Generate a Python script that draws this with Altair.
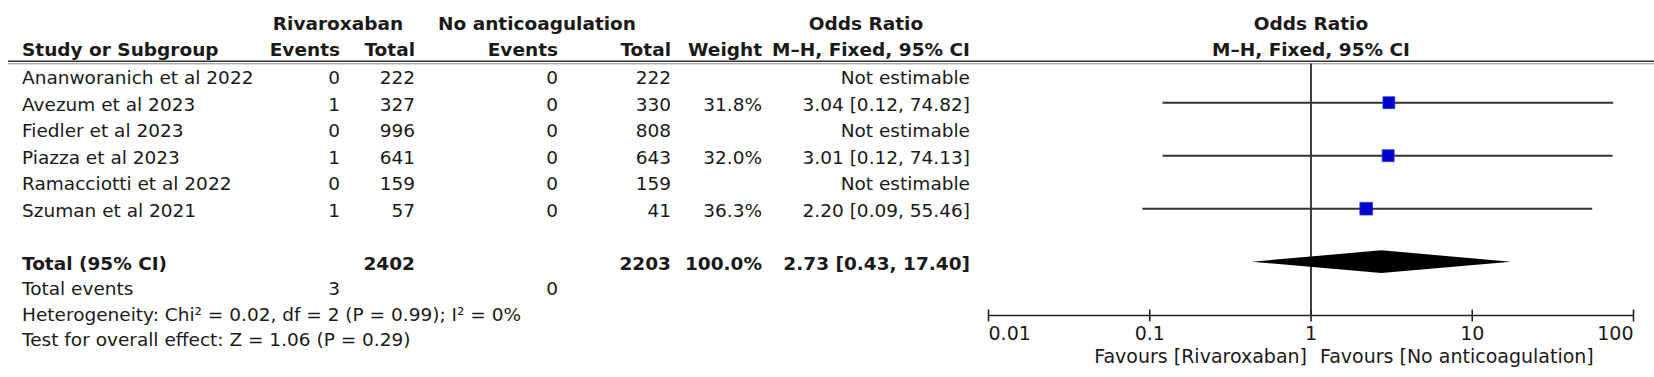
import altair as alt
import pandas as pd

# ---------------- data ----------------
studies = ["Ananworanich et al 2022", "Avezum et al 2023", "Fiedler et al 2023",
           "Piazza et al 2023", "Ramacciotti et al 2022", "Szuman et al 2021"]
riva_events = [0, 1, 0, 1, 0, 1]
riva_total = [222, 327, 996, 641, 159, 57]
noac_events = [0, 0, 0, 0, 0, 0]
noac_total = [222, 330, 808, 643, 159, 41]
weights = [None, 31.8, None, 32.0, None, 36.3]
or_est = [None, 3.04, None, 3.01, None, 2.20]
or_lo = [None, 0.12, None, 0.12, None, 0.09]
or_hi = [None, 74.82, None, 74.13, None, 55.46]

total_riva = 2402
total_noac = 2203
total_weight = 100.0
total_est, total_lo, total_hi = 2.73, 0.43, 17.40
events_riva_sum = 3
events_noac_sum = 0
het_text = "Heterogeneity: Chi\u00b2 = 0.02, df = 2 (P = 0.99); I\u00b2 = 0%"
test_text = "Test for overall effect: Z = 1.06 (P = 0.29)"

tick_values = [0.01, 0.1, 1, 10, 100]
tick_labels = ["0.01", "0.1", "1", "10", "100"]
favours_left = "Favours [Rivaroxaban]"
favours_right = "Favours [No anticoagulation]"

# ---------------- styles ----------------
FONT = "DejaVu Sans"
FS = 18.5
TXT = "#1a1a1a"
ROW_DY = 8.0
W, H = 1654, 377

yscale = alt.Scale(domain=[0, 10], range=[76.2, 341.2], zero=False, nice=False)
xscale = alt.Scale(type="log", domain=[0.01, 100], range=[988.5, 1633.5], nice=False)

TOTAL_ROW, EVENTS_ROW, HET_ROW, TEST_ROW = 7, 7.97, 8.92, 9.87

X_STUDY, X_RE, X_RT, X_NE, X_NT, X_W, X_CI = 22, 340, 415, 558, 671, 762, 970


def row_text(rows, texts, x, align, bold=False):
    df = pd.DataFrame({"row": rows, "t": texts})
    df = df[df["t"] != ""]
    return alt.Chart(df).mark_text(
        align=align, baseline="alphabetic", dy=ROW_DY, font=FONT, fontSize=FS,
        fontWeight="bold" if bold else "normal", color=TXT
    ).encode(x=alt.value(x), y=alt.Y("row:Q", scale=yscale, axis=None), text="t:N")


def head_text(text, x, y, align, bold=True):
    df = pd.DataFrame({"t": [text]})
    return alt.Chart(df).mark_text(
        align=align, baseline="alphabetic", font=FONT, fontSize=FS,
        fontWeight="bold" if bold else "normal", color=TXT
    ).encode(x=alt.value(x), y=alt.value(y), text="t:N")


def fmt_ci(e, l, h):
    if e is None:
        return "Not estimable"
    return f"{e:.2f} [{l:.2f}, {h:.2f}]"


idx = list(range(len(studies)))
layers = []

# header
layers += [
    head_text("Rivaroxaban", 338, 30, "center"),
    head_text("No anticoagulation", 537, 30, "center"),
    head_text("Odds Ratio", 866, 30, "center"),
    head_text("Odds Ratio", 1311, 30, "center"),
    head_text("Study or Subgroup", X_STUDY, 55.5, "left"),
    head_text("Events", X_RE, 55.5, "right"),
    head_text("Total", X_RT, 55.5, "right"),
    head_text("Events", X_NE, 55.5, "right"),
    head_text("Total", X_NT, 55.5, "right"),
    head_text("Weight", X_W, 55.5, "right"),
    head_text("M\u2013H, Fixed, 95% CI", X_CI, 55.5, "right"),
    head_text("M\u2013H, Fixed, 95% CI", 1311, 55.5, "center"),
]

# header rules (double)
rule_df = pd.DataFrame({"a": [0]})
layers.append(alt.Chart(rule_df).mark_rule(color="#333333", strokeWidth=1.4).encode(
    x=alt.value(8), x2=alt.value(W), y=alt.value(61.3)))
layers.append(alt.Chart(rule_df).mark_rule(color="#8a8a8a", strokeWidth=1.0).encode(
    x=alt.value(8), x2=alt.value(W), y=alt.value(63.8)))

# body rows
layers += [
    row_text(idx, studies, X_STUDY, "left"),
    row_text(idx, [str(v) for v in riva_events], X_RE, "right"),
    row_text(idx, [str(v) for v in riva_total], X_RT, "right"),
    row_text(idx, [str(v) for v in noac_events], X_NE, "right"),
    row_text(idx, [str(v) for v in noac_total], X_NT, "right"),
    row_text(idx, ["" if w is None else f"{w:.1f}%" for w in weights], X_W, "right"),
    row_text(idx, [fmt_ci(e, l, h) for e, l, h in zip(or_est, or_lo, or_hi)], X_CI, "right"),
]

# total row (bold)
layers += [
    row_text([TOTAL_ROW], ["Total (95% CI)"], X_STUDY, "left", True),
    row_text([TOTAL_ROW], [str(total_riva)], X_RT, "right", True),
    row_text([TOTAL_ROW], [str(total_noac)], X_NT, "right", True),
    row_text([TOTAL_ROW], [f"{total_weight:.1f}%"], X_W, "right", True),
    row_text([TOTAL_ROW], [fmt_ci(total_est, total_lo, total_hi)], X_CI, "right", True),
]

# footer rows
layers += [
    row_text([EVENTS_ROW], ["Total events"], X_STUDY, "left"),
    row_text([EVENTS_ROW], [str(events_riva_sum)], X_RE, "right"),
    row_text([EVENTS_ROW], [str(events_noac_sum)], X_NE, "right"),
    row_text([HET_ROW], [het_text], X_STUDY, "left"),
    row_text([TEST_ROW], [test_text], X_STUDY, "left"),
]

# ---------------- forest plot ----------------
ci_df = pd.DataFrame({"row": idx, "est": or_est, "lo": or_lo, "hi": or_hi, "w": weights}).dropna()

# line of no effect
layers.append(alt.Chart(pd.DataFrame({"v": [1]})).mark_rule(color="#111111", strokeWidth=1.6).encode(
    x=alt.X("v:Q", scale=xscale, axis=None), y=alt.value(63.5), y2=alt.value(316)))

layers.append(alt.Chart(ci_df).mark_rule(color="#333333", strokeWidth=2).encode(
    x=alt.X("lo:Q", scale=xscale, axis=None), x2="hi:Q",
    y=alt.Y("row:Q", scale=yscale, axis=None)))

layers.append(alt.Chart(ci_df).mark_square(color="#0000cc", opacity=1, stroke="#2233dd", strokeWidth=0.8).encode(
    x=alt.X("est:Q", scale=xscale, axis=None),
    y=alt.Y("row:Q", scale=yscale, axis=None),
    size=alt.Size("w:Q", scale=alt.Scale(domain=[0, 36.3], range=[0, 160], zero=True), legend=None)))

# diamond for the pooled estimate
HALF = 0.43
dia_df = pd.DataFrame({
    "x": [total_lo, total_est, total_hi],
    "y1": [TOTAL_ROW, TOTAL_ROW - HALF, TOTAL_ROW],
    "y2": [TOTAL_ROW, TOTAL_ROW + HALF, TOTAL_ROW],
})
layers.append(alt.Chart(dia_df).mark_area(color="#000000", opacity=1, orient="vertical").encode(
    x=alt.X("x:Q", scale=xscale, axis=None),
    y=alt.Y("y1:Q", scale=yscale, axis=None), y2="y2:Q"))

# axis
layers.append(alt.Chart(pd.DataFrame({"a": [tick_values[0]], "b": [tick_values[-1]]})).mark_rule(
    color="#222222", strokeWidth=1.6).encode(
    x=alt.X("a:Q", scale=xscale, axis=None), x2="b:Q", y=alt.value(315.5)))
ticks_df = pd.DataFrame({"v": tick_values, "lab": tick_labels, "i": list(range(len(tick_values)))})
layers.append(alt.Chart(ticks_df).mark_rule(color="#222222", strokeWidth=1.6).encode(
    x=alt.X("v:Q", scale=xscale, axis=None), y=alt.value(309.5), y2=alt.value(321.5)))
n_t = len(tick_values)
for cond, align in [("datum.i == 0", "left"), (f"datum.i > 0 && datum.i < {n_t - 1}", "center"),
                    (f"datum.i == {n_t - 1}", "right")]:
    layers.append(alt.Chart(ticks_df).transform_filter(cond).mark_text(
        align=align, baseline="alphabetic", font=FONT, fontSize=19, color=TXT).encode(
        x=alt.X("v:Q", scale=xscale, axis=None), y=alt.value(339.5), text="lab:N"))

fav_df = pd.DataFrame({"v": [1], "l": [favours_left], "r": [favours_right]})
layers.append(alt.Chart(fav_df).mark_text(align="right", baseline="alphabetic", dx=-4, font=FONT,
                                          fontSize=19, color=TXT).encode(
    x=alt.X("v:Q", scale=xscale, axis=None), y=alt.value(362.7), text="l:N"))
layers.append(alt.Chart(fav_df).mark_text(align="left", baseline="alphabetic", dx=9, font=FONT,
                                          fontSize=19, color=TXT).encode(
    x=alt.X("v:Q", scale=xscale, axis=None), y=alt.value(362.7), text="r:N"))

chart = alt.layer(*layers).properties(
    width=W, height=H, padding=0, autosize=alt.AutoSizeParams(type="none"),
    background="white"
).configure_view(stroke=None)

chart.save("out.html", embed_options={"renderer": "svg", "actions": False})
